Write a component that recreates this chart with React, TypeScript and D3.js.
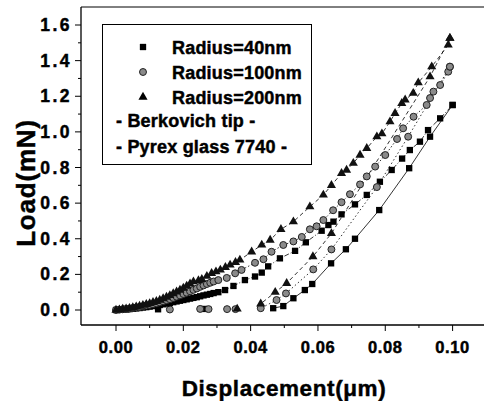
import React from "react";
import * as d3 from "d3";

// ---- data (displacement in µm, load in mN) ----
const load40: [number, number][] = [
  [0, 0], [0.001, 0.001], [0.002, 0.002], [0.003, 0.003], [0.004, 0.005], [0.005, 0.007],
  [0.006, 0.009], [0.007, 0.011], [0.008, 0.014], [0.009, 0.016], [0.010, 0.019], [0.011, 0.022],
  [0.012, 0.025], [0.013, 0.028], [0.014, 0.032], [0.015, 0.036], [0.016, 0.040], [0.017, 0.044],
  [0.018, 0.048], [0.019, 0.052], [0.020, 0.056], [0.021, 0.060], [0.022, 0.064], [0.023, 0.068],
  [0.024, 0.072], [0.025, 0.077], [0.026, 0.082], [0.027, 0.086], [0.028, 0.090], [0.029, 0.095],
  [0.0304, 0.100], [0.0324, 0.112], [0.0349, 0.135],
  [0.0383, 0.168], [0.0413, 0.188], [0.0433, 0.210], [0.0452, 0.245], [0.0487, 0.290], [0.0532, 0.332],
  [0.0564, 0.380], [0.0611, 0.445], [0.0631, 0.477], [0.0646, 0.496], [0.0670, 0.537], [0.0710, 0.593],
  [0.0745, 0.646], [0.0784, 0.720], [0.0819, 0.786], [0.0850, 0.850], [0.0873, 0.898], [0.0903, 0.945],
  [0.0927, 1.010], [0.0963, 1.076], [0.1000, 1.151],
];
const unload40: [number, number][] = [
  [0.1000, 1.151], [0.0933, 0.973], [0.0871, 0.796], [0.0782, 0.561], [0.0710, 0.400],
  [0.0683, 0.341], [0.0639, 0.262], [0.0583, 0.146], [0.0561, 0.112], [0.0527, 0.066],
  [0.0497, 0.022], [0.0467, 0.010],
];
const tail40: [number, number][] = [[0.0125, 0.004], [0.0262, 0.006]];

const load100: [number, number][] = [
  [0, 0], [0.001, 0.002], [0.002, 0.004], [0.003, 0.006], [0.004, 0.008], [0.005, 0.011],
  [0.006, 0.014], [0.007, 0.017], [0.008, 0.021], [0.009, 0.025], [0.010, 0.029], [0.011, 0.033],
  [0.012, 0.038], [0.013, 0.043], [0.014, 0.049], [0.015, 0.055], [0.016, 0.061], [0.017, 0.068],
  [0.018, 0.075], [0.019, 0.082], [0.020, 0.090], [0.021, 0.097], [0.022, 0.105], [0.023, 0.113],
  [0.024, 0.121], [0.025, 0.130], [0.026, 0.138], [0.027, 0.146], [0.028, 0.153], [0.029, 0.160],
  [0.0304, 0.168], [0.0329, 0.180], [0.0354, 0.206],
  [0.0373, 0.225], [0.0413, 0.265], [0.0438, 0.285], [0.0462, 0.327], [0.0497, 0.365], [0.0527, 0.385],
  [0.0552, 0.410], [0.0576, 0.453], [0.0596, 0.470], [0.0616, 0.505], [0.0645, 0.560], [0.0670, 0.605],
  [0.0695, 0.650], [0.0725, 0.705], [0.0745, 0.750], [0.0770, 0.805], [0.0800, 0.870], [0.0835, 0.960],
  [0.0853, 1.020], [0.0884, 1.085], [0.0923, 1.151], [0.0933, 1.190], [0.0943, 1.226], [0.0963, 1.263],
  [0.0987, 1.338], [0.0992, 1.366],
];
const unload100: [number, number][] = [
  [0.0992, 1.366], [0.0868, 0.973], [0.0775, 0.690], [0.0640, 0.340], [0.0586, 0.228],
  [0.0505, 0.093], [0.0477, 0.056], [0.0430, 0.010],
];
const tail100: [number, number][] = [
  [0.0160, 0.003], [0.0250, 0.006], [0.0275, 0.005], [0.0330, 0.005], [0.0355, 0.005],
];

const load200: [number, number][] = [
  [0, 0], [0.001, 0.002], [0.002, 0.005], [0.003, 0.007], [0.004, 0.010], [0.005, 0.014],
  [0.006, 0.018], [0.007, 0.022], [0.008, 0.027], [0.009, 0.032], [0.010, 0.037], [0.011, 0.043],
  [0.012, 0.049], [0.013, 0.056], [0.014, 0.064], [0.015, 0.073], [0.016, 0.082], [0.017, 0.092],
  [0.018, 0.102], [0.019, 0.112], [0.020, 0.123], [0.021, 0.135], [0.022, 0.147],
  [0.023, 0.159], [0.0245, 0.165], [0.0255, 0.172], [0.027, 0.190], [0.0284, 0.206], [0.0297, 0.215],
  [0.0310, 0.225], [0.0325, 0.240], [0.0339, 0.253], [0.0355, 0.268], [0.0368, 0.281],
  [0.0403, 0.327], [0.0433, 0.365], [0.0458, 0.393], [0.0490, 0.453], [0.0527, 0.496], [0.0576, 0.580],
  [0.0616, 0.646], [0.0640, 0.700], [0.0670, 0.767], [0.0685, 0.786], [0.0705, 0.824], [0.0725, 0.870],
  [0.0745, 0.908], [0.0775, 0.973], [0.0790, 0.990], [0.0814, 1.057], [0.0829, 1.104], [0.0849, 1.160],
  [0.0859, 1.180], [0.0883, 1.217], [0.0898, 1.276], [0.0938, 1.366], [0.0987, 1.488], [0.0992, 1.526],
];
const unload200: [number, number][] = [
  [0.0992, 1.526], [0.0933, 1.310], [0.0640, 0.430], [0.0585, 0.300], [0.0507, 0.150],
  [0.0473, 0.100], [0.0430, 0.035],
];
const tail200: [number, number][] = [[0.0360, 0.006]];

const xTicks = [0, 0.02, 0.04, 0.06, 0.08, 0.1];
const xMinor = [0.01, 0.03, 0.05, 0.07, 0.09, 0.11];
const yTicks = [0, 0.2, 0.4, 0.6, 0.8, 1.0, 1.2, 1.4, 1.6];
const yMinor = [0.1, 0.3, 0.5, 0.7, 0.9, 1.1, 1.3, 1.5];
const legendLabels = ["Radius=40nm", "Radius=100nm", "Radius=200nm"];
const legendNotes = ["- Berkovich tip -", "- Pyrex glass 7740 -"];

const W = 484;
const H = 401;
const FONT = "'Liberation Sans', Arial, Helvetica, sans-serif";

export default function App() {
  const x = d3.scaleLinear().domain([0, 0.1]).range([116, 452.6]);
  const y = d3.scaleLinear().domain([0, 1.6]).range([310, 25]);
  const left = 81, right = 484, top = 7, bottom = 325;

  const line = d3.line<[number, number]>().x((d) => x(d[0])).y((d) => y(d[1]));
  const sq = d3.symbol().type(d3.symbolSquare).size(40)()!;
  const ci = d3.symbol().type(d3.symbolCircle).size(38)()!;
  const tr = d3.symbol().type(d3.symbolTriangle).size(36)()!;

  const marks = (pts: [number, number][], kind: string, key: string) =>
    pts.map((p, i) => {
      const t = `translate(${x(p[0])},${y(p[1])})`;
      if (kind === "sq") return <path key={key + i} d={sq} transform={t} fill="#000" />;
      if (kind === "ci")
        return <path key={key + i} d={ci} transform={t} fill="#8a8a8a" stroke="#222" strokeWidth={1} />;
      return <path key={key + i} d={tr} transform={t} fill="#111" />;
    });

  const legendMarks = ["sq", "ci", "tr"];
  const textStroke = { stroke: "#000", strokeWidth: 0.45 };

  return (
    <svg width={W} height={H} style={{ position: "absolute", left: 0, top: 0, background: "#fff" }}
      fontFamily={FONT} fontWeight="bold">
      {/* frame */}
      <line x1={left} x2={left} y1={top} y2={bottom} stroke="#000" strokeWidth={1.3} />
      <line x1={left} x2={right} y1={bottom} y2={bottom} stroke="#000" strokeWidth={1.3} />
      <line x1={left} x2={right} y1={top} y2={top} stroke="#000" strokeWidth={1} />

      {/* x ticks */}
      {xTicks.map((t) => (
        <g key={"xt" + t}>
          <line x1={x(t)} x2={x(t)} y1={bottom} y2={bottom + 6} stroke="#000" strokeWidth={1} />
          <text x={x(t)} y={353} textAnchor="middle" fontSize={16.5} letterSpacing={0.6} {...textStroke}>
            {d3.format(".2f")(t)}
          </text>
        </g>
      ))}
      {xMinor.map((t) => (
        <line key={"xm" + t} x1={x(t)} x2={x(t)} y1={bottom} y2={bottom + 3} stroke="#000" strokeWidth={1} />
      ))}
      {/* y ticks */}
      {yTicks.map((t) => (
        <g key={"yt" + t}>
          <line x1={left - 6} x2={left} y1={y(t)} y2={y(t)} stroke="#000" strokeWidth={1} />
          <text x={72} y={y(t) + 6} textAnchor="end" fontSize={17.5} letterSpacing={2.5} {...textStroke}>
            {d3.format(".1f")(t)}
          </text>
        </g>
      ))}
      {yMinor.map((t) => (
        <line key={"ym" + t} x1={left - 3} x2={left} y1={y(t)} y2={y(t)} stroke="#000" strokeWidth={1} />
      ))}

      {/* axis titles */}
      <text x={284} y={396} textAnchor="middle" fontSize={22.5} letterSpacing={0.6} {...textStroke}>
        Displacement(μm)
      </text>
      <text transform="translate(35,183) rotate(-90)" textAnchor="middle" fontSize={26} letterSpacing={0.8}
        {...textStroke}>
        Load(mN)
      </text>

      {/* connecting lines */}
      <g fill="none" stroke="#000" strokeWidth={0.8}>
        <path d={line(load40)!} strokeDasharray="5,2,1,2" />
        <path d={line(unload40)!} />
        <path d={line(load100)!} strokeDasharray="1.5,2" />
        <path d={line(unload100)!} strokeDasharray="1.5,2.5" />
        <path d={line(load200)!} strokeDasharray="4,3" />
        <path d={line(unload200)!} strokeDasharray="4,3" />
      </g>

      {/* markers */}
      {marks(tail40, "sq", "t4")}
      {marks(tail100, "ci", "t1")}
      {marks(tail200, "tr", "t2")}
      {marks(load40, "sq", "l4")}
      {marks(unload40, "sq", "u4")}
      {marks(load100, "ci", "l1")}
      {marks(unload100, "ci", "u1")}
      {marks(load200, "tr", "l2")}
      {marks(unload200, "tr", "u2")}

      {/* legend */}
      <rect x={102.5} y={24.5} width={209} height={140} fill="#fff" stroke="#000" strokeWidth={1} />
      {legendLabels.map((lab, i) => {
        const cy = 47 + i * 25;
        const k = legendMarks[i];
        const d = k === "sq" ? sq : k === "ci" ? ci : tr;
        return (
          <g key={lab}>
            <path d={d} transform={`translate(143,${cy})`}
              fill={k === "ci" ? "#8a8a8a" : "#000"} stroke={k === "ci" ? "#222" : "none"} />
            <text x={172} y={cy + 6.5} fontSize={18} letterSpacing={0.2} {...textStroke}>{lab}</text>
          </g>
        );
      })}
      {legendNotes.map((n, i) => (
        <text key={n} x={116} y={127 + i * 26} fontSize={18} letterSpacing={0.2} {...textStroke}>{n}</text>
      ))}
    </svg>
  );
}
